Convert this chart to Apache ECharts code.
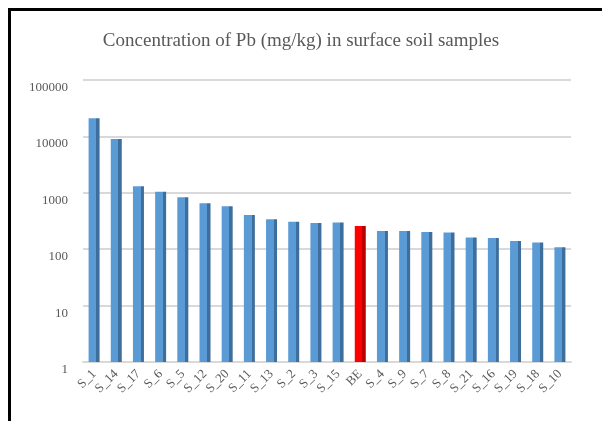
<!DOCTYPE html>
<html lang="en" style="height: 100%">

<head>
  <meta charset="utf-8">
  <style>
    html,
    body {
      margin: 0;
      padding: 0;
      width: 100%;
      height: 100%;
      overflow: hidden;
      background: #fff;
    }
    #frame {
      position: absolute;
      left: 8px;
      top: 8px;
      right: 0;
      bottom: 0;
      border-top: 3px solid #000;
      border-left: 3px solid #000;
      pointer-events: none;
    }
  </style>
  <script type="text/javascript" src="https://cdn.jsdelivr.net/npm/echarts@6/dist/echarts.min.js"></script>
</head>

<body>
  <div id="container" style="height: 100%;width: 100%;"></div>
  <div id="frame"></div>

  <script type="text/javascript">
    var dom = document.getElementById('container');
    var myChart = echarts.init(dom, null, { renderer: 'canvas' });

    // sample names
    const categories = ["S_1", "S_14", "S_17", "S_6", "S_5", "S_12", "S_20", "S_11", "S_13", "S_2", "S_3",
      "S_15", "BE", "S_4", "S_9", "S_7", "S_8", "S_21", "S_16", "S_19", "S_18", "S_10"];

    // Pb concentration (mg/kg)
    const pbValues = [21000, 9000, 1300, 1040, 830, 650, 580, 405, 340, 308, 291,
      296, 258, 210, 210, 202, 197, 161, 158, 140, 131, 108];

    // highlighted category (background value)
    const highlight = "BE";

    const yTicks = [1, 10, 100, 1000, 10000, 100000];

    // front face + darker side, to look like the 3D columns
    function sideGradient(front, side) {
      return new echarts.graphic.LinearGradient(0, 0, 1, 0, [
        { offset: 0, color: front },
        { offset: 0.7, color: front },
        { offset: 0.7, color: side },
        { offset: 1, color: side }
      ]);
    }

    const seriesData = pbValues.map(function (v, i) {
      if (categories[i] === highlight) {
        return { value: v, itemStyle: { color: sideGradient('#FF0000', '#B80000') } };
      }
      return v;
    });

    var option = {
      title: {
        text: 'Concentration of Pb (mg/kg) in surface soil samples',
        left: 'center',
        top: 27,
        textStyle: {
          color: '#595959',
          fontFamily: 'Liberation Serif',
          fontSize: 19,
          fontWeight: 'normal'
        }
      },
      grid: {
        top: 80,
        left: 83,
        right: 31,
        bottom: 59
      },
      xAxis: {
        type: 'category',
        data: categories,
        axisLine: { show: true, lineStyle: { color: '#D9D9D9', width: 2 } },
        axisTick: { show: false },
        axisLabel: {
          interval: 0,
          rotate: 45,
          margin: 10,
          color: '#595959',
          fontFamily: 'Liberation Serif',
          fontSize: 13
        }
      },
      yAxis: {
        type: 'log',
        logBase: 10,
        min: yTicks[0],
        max: yTicks[yTicks.length - 1],
        axisLine: { show: false },
        axisTick: { show: false },
        splitLine: { show: true, lineStyle: { color: '#D9D9D9', width: 2 } },
        axisLabel: {
          color: '#595959',
          fontFamily: 'Liberation Serif',
          fontSize: 13,
          margin: 15,
          verticalAlign: 'top',
          padding: [1, 0, 0, 0],
          formatter: function (v) { return String(v); }
        }
      },
      series: [
        {
          type: 'bar',
          data: seriesData,
          barWidth: 11,
          itemStyle: { color: sideGradient('#5B9BD5', '#3E6E9C') },
          animation: false
        }
      ]
    };

    myChart.setOption(option);
    window.addEventListener('resize', myChart.resize);
  </script>
</body>

</html>
